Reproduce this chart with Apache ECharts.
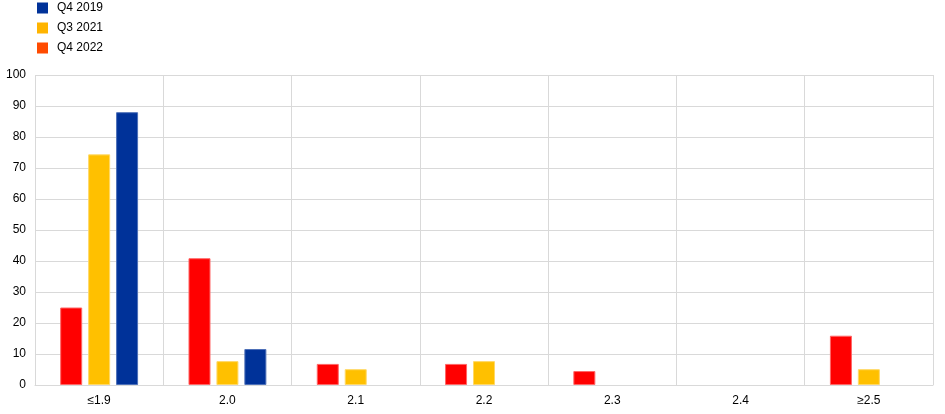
<!DOCTYPE html>
<html>
<head>
<meta charset="utf-8">
<script src="https://cdn.jsdelivr.net/npm/echarts@6/dist/echarts.min.js"></script>
<style>
html,body{margin:0;padding:0;background:#fff;}
#chart{width:945px;height:414px;}
</style>
</head>
<body>
<div id="chart"></div>
<script>
const categories = ['≤1.9', '2.0', '2.1', '2.2', '2.3', '2.4', '≥2.5'];
const q4_2022 = [25.0, 40.9, 6.8, 6.8, 4.5, null, 15.9];
const q3_2021 = [74.4, 7.7, 5.1, 7.7, null, null, 5.1];
const q4_2019 = [88.0, 11.6, null, null, null, null, null];
const yTicks = [0, 10, 20, 30, 40, 50, 60, 70, 80, 90, 100];

const chart = echarts.init(document.getElementById('chart'), null, {renderer: 'canvas'});
const font = 'Liberation Sans, Arial, sans-serif';
chart.setOption({
  animation: false,
  textStyle: {fontFamily: font},
  legend: {
    orient: 'vertical',
    left: 32,
    top: -3,
    itemWidth: 11,
    itemHeight: 11,
    itemGap: 8,
    icon: 'rect',
    itemStyle: {borderWidth: 0},
    textStyle: {fontFamily: font, fontSize: 12, color: '#000', padding: [0, 0, 0, 4]},
    data: [
      {name: 'Q4 2019', itemStyle: {color: '#003299', borderWidth: 0}},
      {name: 'Q3 2021', itemStyle: {color: '#FFB400', borderWidth: 0}},
      {name: 'Q4 2022', itemStyle: {color: '#FF4B00', borderWidth: 0}}
    ]
  },
  grid: {left: 35, right: 12, top: 75, bottom: 29, containLabel: false},
  xAxis: {
    type: 'category',
    data: categories,
    axisLine: {lineStyle: {color: '#d9d9d9'}},
    axisTick: {show: false},
    splitLine: {show: true, lineStyle: {color: '#d9d9d9', width: 1}},
    axisLabel: {color: '#000', fontSize: 12, margin: 10, fontFamily: font}
  },
  yAxis: {
    type: 'value',
    min: yTicks[0],
    max: yTicks[yTicks.length - 1],
    interval: 10,
    axisLine: {show: false},
    axisTick: {show: false},
    splitLine: {lineStyle: {color: '#d9d9d9', width: 1}},
    axisLabel: {color: '#000', fontSize: 12, margin: 9, fontFamily: font}
  },
  series: [
    {name: 'Q4 2022', type: 'bar', data: q4_2022, barWidth: 22, barGap: '27%',
     itemStyle: {color: '#FF0000', borderColor: '#FF6666', borderWidth: 1}},
    {name: 'Q3 2021', type: 'bar', data: q3_2021, barWidth: 22, barGap: '27%',
     itemStyle: {color: '#FFC000', borderColor: '#FFD966', borderWidth: 1}},
    {name: 'Q4 2019', type: 'bar', data: q4_2019, barWidth: 22, barGap: '27%',
     itemStyle: {color: '#003299', borderColor: '#4D70B8', borderWidth: 1}}
  ]
});
</script>
</body>
</html>
